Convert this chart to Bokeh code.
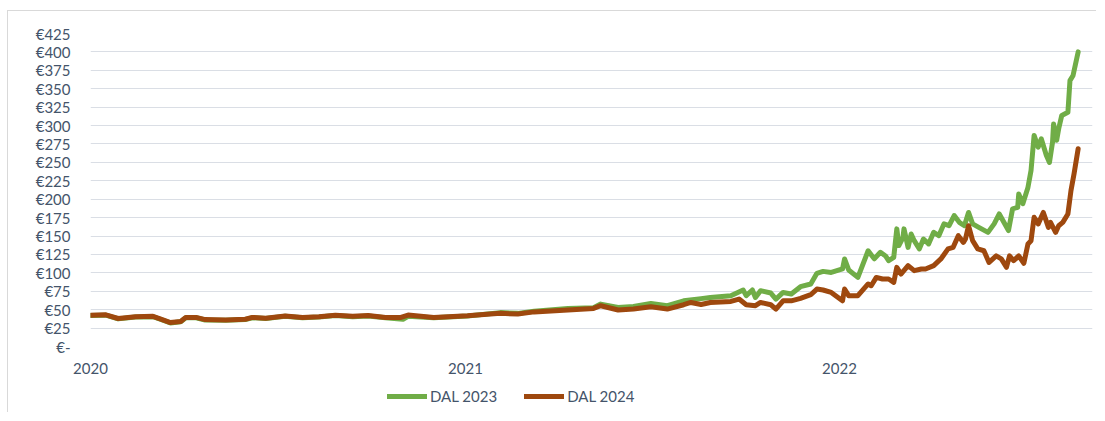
import pandas as pd
from bokeh.plotting import figure
from bokeh.layouts import column
from bokeh.models import FixedTicker, Legend, LegendItem, Range1d, ColumnDataSource
from bokeh.embed import file_html
from bokeh.resources import INLINE

# ---------------- data ----------------
dal2023_dates = [
    "2020-01-01", "2020-01-16", "2020-01-28", "2020-02-14", "2020-03-02", "2020-03-09",
    "2020-03-19", "2020-03-29", "2020-04-03", "2020-04-13", "2020-04-22", "2020-05-12",
    "2020-05-31", "2020-06-07", "2020-06-20", "2020-07-09", "2020-07-26", "2020-08-11",
    "2020-08-27", "2020-09-13", "2020-09-28", "2020-10-15", "2020-11-01", "2020-11-06",
    "2020-12-01", "2021-01-03", "2021-02-04", "2021-02-21", "2021-03-09", "2021-04-11",
    "2021-05-06", "2021-05-13", "2021-05-30", "2021-06-14", "2021-07-01", "2021-07-17",
    "2021-08-02", "2021-08-19", "2021-08-28", "2021-09-17", "2021-09-29", "2021-10-02",
    "2021-10-08", "2021-10-11", "2021-10-16", "2021-10-26", "2021-10-31", "2021-11-07",
    "2021-11-15", "2021-11-24", "2021-12-04", "2021-12-10", "2021-12-16", "2021-12-24",
    "2022-01-04", "2022-01-06", "2022-01-10", "2022-01-19", "2022-01-29", "2022-02-04",
    "2022-02-10", "2022-02-15", "2022-02-18", "2022-02-23", "2022-02-26", "2022-02-28",
    "2022-03-04", "2022-03-05", "2022-03-09", "2022-03-12", "2022-03-15", "2022-03-20",
    "2022-03-24", "2022-03-29", "2022-04-03", "2022-04-08", "2022-04-13", "2022-04-18",
    "2022-04-23", "2022-04-28", "2022-05-03", "2022-05-07", "2022-05-11", "2022-05-17",
    "2022-05-26", "2022-06-01", "2022-06-06", "2022-06-15", "2022-06-19", "2022-06-24",
    "2022-06-25", "2022-06-29", "2022-07-04", "2022-07-07", "2022-07-10", "2022-07-14",
    "2022-07-17", "2022-07-22", "2022-07-25", "2022-07-28", "2022-07-29", "2022-08-01",
    "2022-08-03", "2022-08-06", "2022-08-12", "2022-08-14", "2022-08-17", "2022-08-22",
]
dal2023_values = [
    42, 42.5, 37.5, 40, 40.5, 37,
    32, 33.5, 39, 39, 36, 35.5,
    36.5, 39, 38, 41, 39, 40,
    42, 40.5, 41.5, 39, 37, 41,
    39, 41.5, 46, 45, 48, 51.7,
    52.5, 57.6, 53, 54.4, 58.5, 55.4,
    62, 65, 66.6, 69, 76.7, 69,
    76.7, 66.6, 75.8, 72.6, 64.4, 73.4,
    71.3, 81.2, 84.9, 99.3, 102, 100.6,
    105.3, 118.9, 103.9, 93.8, 130, 119,
    128, 123, 116.5, 121, 159.7, 137,
    148, 159.7, 134.6, 152.8, 143.7, 132.5,
    146, 139.3, 155, 150.5, 166.5, 164,
    177.8, 168.6, 164, 182, 166.5, 161.8,
    155, 166.5, 180, 157.4, 187, 189,
    207, 194, 216, 239, 286.6, 270.6,
    282, 259.4, 250, 277.4, 302, 280,
    295.7, 313.8, 318, 361, 368, 400,
]

dal2024_dates = [
    "2020-01-01", "2020-01-16", "2020-01-28", "2020-02-14", "2020-03-02", "2020-03-09",
    "2020-03-19", "2020-03-29", "2020-04-03", "2020-04-13", "2020-04-22", "2020-05-12",
    "2020-05-31", "2020-06-07", "2020-06-20", "2020-07-09", "2020-07-26", "2020-08-11",
    "2020-08-27", "2020-09-13", "2020-09-28", "2020-10-15", "2020-10-30", "2020-11-06",
    "2020-12-01", "2021-01-03", "2021-02-04", "2021-02-21", "2021-03-09", "2021-04-11",
    "2021-05-06", "2021-05-13", "2021-05-30", "2021-06-14", "2021-07-01", "2021-07-17",
    "2021-08-02", "2021-08-09", "2021-08-19", "2021-08-28", "2021-09-17", "2021-09-25",
    "2021-10-02", "2021-10-11", "2021-10-16", "2021-10-26", "2021-10-31", "2021-11-07",
    "2021-11-15", "2021-11-24", "2021-12-04", "2021-12-10", "2021-12-16", "2021-12-24",
    "2022-01-04", "2022-01-06", "2022-01-10", "2022-01-19", "2022-01-29", "2022-02-01",
    "2022-02-06", "2022-02-12", "2022-02-18", "2022-02-23", "2022-02-26", "2022-03-02",
    "2022-03-09", "2022-03-15", "2022-03-22", "2022-03-26", "2022-04-03", "2022-04-10",
    "2022-04-17", "2022-04-22", "2022-04-27", "2022-05-02", "2022-05-04", "2022-05-07",
    "2022-05-11", "2022-05-16", "2022-05-22", "2022-05-27", "2022-06-03", "2022-06-08",
    "2022-06-13", "2022-06-16", "2022-06-20", "2022-06-25", "2022-06-30", "2022-07-04",
    "2022-07-07", "2022-07-10", "2022-07-14", "2022-07-19", "2022-07-24", "2022-07-26",
    "2022-07-31", "2022-08-03", "2022-08-07", "2022-08-12", "2022-08-15", "2022-08-18",
    "2022-08-22",
]
dal2024_values = [
    42.5, 43, 38, 40.5, 41, 37.5,
    32.5, 34, 39.5, 39.5, 36.5, 36,
    37, 39.5, 38.5, 41.5, 39.5, 40.5,
    42.5, 41, 42, 39.5, 39.5, 42.7,
    39.5, 41.7, 45, 44, 47, 49.5,
    51.7, 55.4, 49.5, 50.8, 54, 50.8,
    56.7, 59.8, 57, 59.8, 61.2, 64.4,
    56.7, 55.4, 59.8, 56.7, 50.8, 62,
    62, 65.3, 70.3, 78, 76.7, 73.4,
    62, 78, 69, 69, 84.9, 82.5,
    93.8, 91.6, 91.6, 87, 107.5, 98.4,
    109.8, 103, 105.3, 105.3, 109.8, 118.9,
    132.5, 134.6, 150.5, 141.4, 146, 164,
    143.7, 132.5, 130, 114.2, 123, 119,
    107.5, 123, 116.5, 123, 113, 139.3,
    143.7, 175.5, 166.5, 182, 161.8, 168.6,
    155, 164, 168.6, 180, 211.8, 234.5,
    268.5,
]

series_names = ["DAL 2023", "DAL 2024"]
series_colors = ["#70ad47", "#9e480e"]

y_ticks = [0, 25, 50, 75, 100, 125, 150, 175, 200, 225, 250, 275, 300, 325, 350, 375, 400, 425]
y_tick_labels = ["€-", "€25", "€50", "€75", "€100", "€125", "€150", "€175", "€200", "€225",
                 "€250", "€275", "€300", "€325", "€350", "€375", "€400", "€425"]
x_tick_dates = ["2020-01-01", "2021-01-01", "2022-01-01"]
x_tick_labels = ["2020", "2021", "2022"]
x_start, x_end = "2020-01-01", "2022-09-05"

# ---------------- figure ----------------
FONT = "Lato"
TEXT = "#44546a"
BORDER = "1px solid #d9d9d9"
LINE_W = 5

def ms(d):
    return int(pd.Timestamp(d).value // 10**6)

p = figure(
    width=1089, height=375, x_axis_type="datetime",
    x_range=Range1d(ms(x_start), ms(x_end)), y_range=Range1d(0, 425),
    output_backend="svg", toolbar_location=None,
    min_border_left=82, min_border_right=5, min_border_top=22, min_border_bottom=40,
)
p.styles = {"margin-left": "7px", "margin-top": "10px",
            "border-left": BORDER, "border-top": BORDER}
p.outline_line_color = None
p.background_fill_color = "white"

p.xgrid.grid_line_color = None
p.ygrid.grid_line_color = "#dadee5"
p.ygrid.grid_line_width = 1

p.yaxis.ticker = FixedTicker(ticks=y_ticks)
p.yaxis.major_label_overrides = {t: l for t, l in zip(y_ticks, y_tick_labels)}
x_ticks = [ms(d) for d in x_tick_dates]
p.xaxis.ticker = FixedTicker(ticks=x_ticks)
p.xaxis.major_label_overrides = {t: l for t, l in zip(x_ticks, x_tick_labels)}

for ax in (p.xaxis[0], p.yaxis[0]):
    ax.axis_line_color = None
    ax.major_tick_line_color = None
    ax.minor_tick_line_color = None
    ax.major_tick_out = 0
    ax.major_tick_in = 0
    ax.minor_tick_out = 0
    ax.major_label_text_font = FONT
    ax.major_label_text_font_size = "15px"
    ax.major_label_text_color = TEXT
p.yaxis.major_label_standoff = 20
p.xaxis.major_label_standoff = 16

sources = []
for dates, vals, color in ((dal2023_dates, dal2023_values, series_colors[0]),
                           (dal2024_dates, dal2024_values, series_colors[1])):
    src = ColumnDataSource(dict(x=pd.to_datetime(dates), y=vals))
    sources.append(src)
    p.line("x", "y", source=src, line_color=color, line_width=LINE_W,
           line_join="round", line_cap="round")

# ---------------- legend strip (separate small figure below) ----------------
# Same series drawn again, but the strip's y range lies above all values, so
# only their legend entries are visible.
pl = figure(
    width=1089, height=27, output_backend="svg", toolbar_location=None,
    x_axis_location=None, y_axis_location=None, x_axis_type="datetime",
    min_border=0, x_range=Range1d(ms(x_start), ms(x_end)), y_range=Range1d(1000, 1001),
)
pl.styles = {"margin-left": "7px", "border-left": BORDER}
pl.outline_line_color = None
pl.grid.visible = False
legend_renderers = [
    pl.line("x", "y", source=s, line_color=c, line_width=LINE_W, line_cap="round")
    for s, c in zip(sources, series_colors)
]
legend = Legend(
    items=[LegendItem(label=n, renderers=[r]) for n, r in zip(series_names, legend_renderers)],
    orientation="horizontal", location=(297, 6),
    glyph_width=40, glyph_height=20, label_height=20, label_standoff=3, spacing=27,
    padding=0, margin=0, border_line_color=None, background_fill_alpha=0,
    label_text_font=FONT, label_text_font_size="15px", label_text_color=TEXT,
)
pl.add_layout(legend)

layout = column(p, pl, spacing=0)
open("out.html", "w").write(file_html(layout, INLINE))
